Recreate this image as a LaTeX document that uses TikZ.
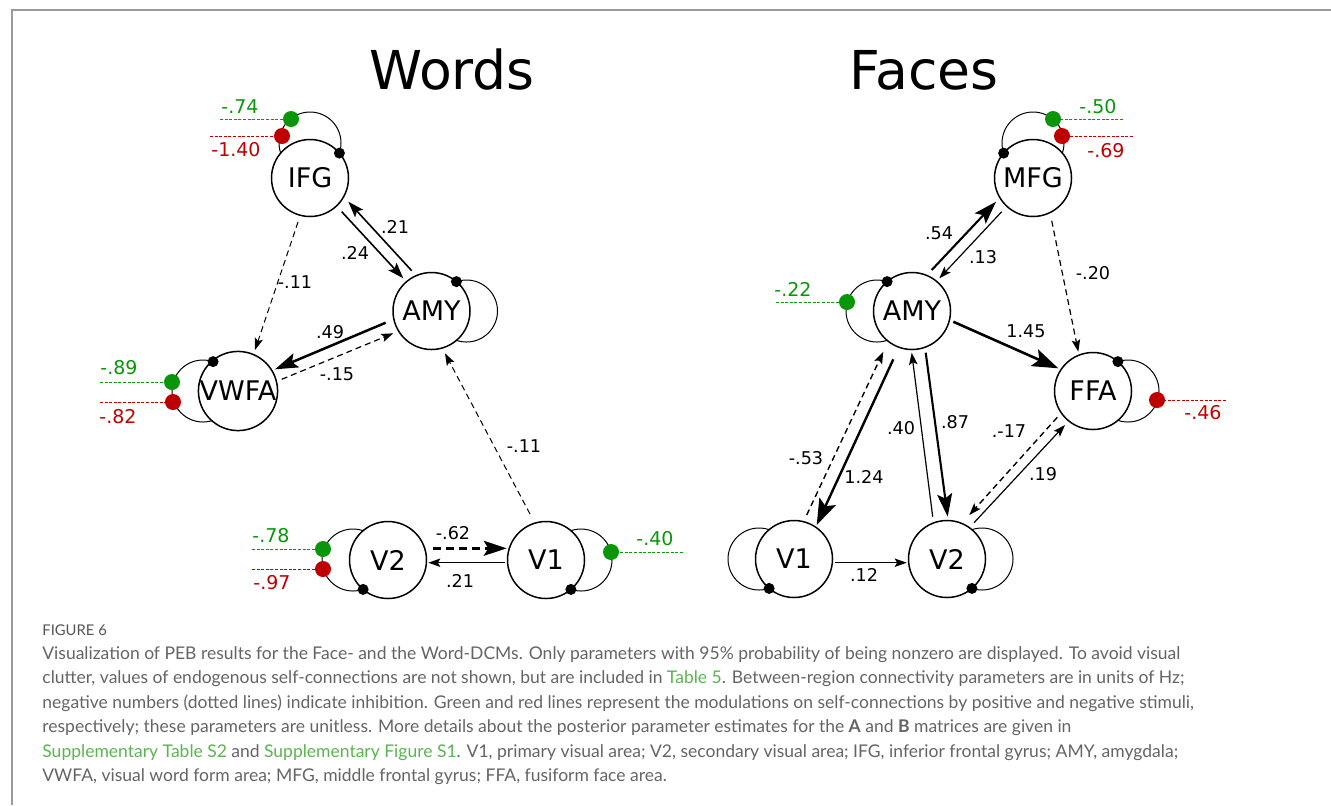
\documentclass[tikz,border=0pt]{standalone}
\usepackage{fontspec}
\setmainfont{DejaVu Sans}
\newfontfamily\capfont{Lato}
\usetikzlibrary{arrows.meta,calc}
\definecolor{pgreen}{RGB}{10,150,10}
\definecolor{pred}{RGB}{190,0,0}
\definecolor{capgray}{RGB}{100,100,100}
\definecolor{linkgreen}{RGB}{90,180,80}
\definecolor{framegray}{RGB}{155,155,155}
\pgfdeclarelayer{bg}
\pgfsetlayers{bg,main}
\begin{document}
\begin{tikzpicture}[x=0.5pt,y=-0.5pt,
 region/.style={circle,draw,line width=0.75pt,fill=white,minimum size=38.5pt,inner sep=0pt,font=\fontsize{13.5}{15}\selectfont},
 selfloop/.style={line width=0.5pt},
 bdot/.style={circle,fill=black,inner sep=0pt,minimum size=5.5pt},
 gdot/.style={circle,fill=pgreen,inner sep=0pt,minimum size=8pt},
 rdot/.style={circle,fill=pred,inner sep=0pt,minimum size=8pt},
 gline/.style={pgreen,line width=0.5pt,dash pattern=on 1.5pt off 0.8pt},
 rline/.style={pred,line width=0.5pt,dash pattern=on 1.5pt off 0.8pt},
 glab/.style={text=pgreen,font=\fontsize{9.5}{11}\selectfont,inner sep=0pt},
 rlab/.style={text=pred,font=\fontsize{9.5}{11}\selectfont,inner sep=0pt},
 elab/.style={font=\fontsize{8.8}{10}\selectfont,inner sep=0pt},
 title/.style={font=\fontsize{26.8}{30}\selectfont,inner sep=0pt},
 athin/.style={line width=0.6pt,-{Stealth[length=6pt,width=4.2pt,inset=1.2pt]}},
 amid/.style={line width=0.8pt,-{Stealth[length=8pt,width=5.5pt,inset=1.6pt]}},
 abig/.style={line width=1.05pt,-{Stealth[length=11.5pt,width=7.5pt,inset=2.3pt]}},
 aheavy/.style={line width=1.3pt,-{Stealth[length=13pt,width=9pt,inset=2.6pt]}},
 inhib/.style={dash pattern=on 3pt off 2pt},
 capline/.style={anchor=base west,inner sep=0pt,text=capgray,font=\capfont\fontsize{8.75}{10}\selectfont},
]
\useasboundingbox (0,0) rectangle (1331,805);
% frame
\draw[framegray,line width=0.9pt] (12,805) -- (12,10) -- (1331,10);

% titles
\node[title] (tW) at (452,70) {Words};
\node[title] (tF) at (924,70) {Faces};

% ---------------- Words ----------------
\node[region] (IFG) at (310,178) {IFG};
\node[region] (AMYw) at (431.5,311) {AMY};
\node[region] (VWFA) at (238,391) {VWFA};
\node[region] (V2w) at (388,560) {V2};
\node[region] (V1w) at (546,560) {V1};

% ---------------- Faces ----------------
\node[region] (MFG) at (1033,178) {MFG};
\node[region] (AMYf) at (912,311) {AMY};
\node[region] (FFA) at (1093,391) {FFA};
\node[region] (V1f) at (794,559) {V1};
\node[region] (V2f) at (947,559) {V2};

% self loops (behind nodes)
\begin{pgfonlayer}{bg}
\draw[selfloop] ($(IFG)+(0,-35)$) circle[radius=15.5pt];
\draw[selfloop] ($(AMYw)+(35,0)$) circle[radius=15.5pt];
\draw[selfloop] ($(VWFA)+(-35,0)$) circle[radius=15.5pt];
\draw[selfloop] ($(V2w)+(-35,0)$) circle[radius=15.5pt];
\draw[selfloop] ($(V1w)+(35,0)$) circle[radius=15.5pt];
\draw[selfloop] ($(MFG)+(0,-35)$) circle[radius=15.5pt];
\draw[selfloop] ($(AMYf)+(-35,0)$) circle[radius=15.5pt];
\draw[selfloop] ($(FFA)+(35,0)$) circle[radius=15.5pt];
\draw[selfloop] ($(V1f)+(-35,0)$) circle[radius=15.5pt];
\draw[selfloop] ($(V2f)+(35,0)$) circle[radius=15.5pt];
\end{pgfonlayer}

% black dots
\node[bdot] (bIFG) at ($(IFG)+(29.4,-24.9)$) {};
\node[bdot] (bAMYw) at ($(AMYw)+(24.9,-29.4)$) {};
\node[bdot] (bVWFA) at ($(VWFA)+(-24.9,-29.4)$) {};
\node[bdot] (bV2w) at ($(V2w)+(-24.9,29.4)$) {};
\node[bdot] (bV1w) at ($(V1w)+(24.9,29.4)$) {};
\node[bdot] (bMFG) at ($(MFG)+(-29.4,-24.9)$) {};
\node[bdot] (bAMYf) at ($(AMYf)+(-24.9,-29.4)$) {};
\node[bdot] (bFFA) at ($(FFA)+(24.9,-29.4)$) {};
\node[bdot] (bV1f) at ($(V1f)+(-24.9,29.4)$) {};
\node[bdot] (bV2f) at ($(V2f)+(24.9,29.4)$) {};

% modulation lines and dots
\coordinate (eIFGg) at (220,119);
\coordinate (eIFGr) at (210,136);
\draw[gline] (eIFGg) -- ($(IFG)+(-19,-59)$);
\draw[rline] (eIFGr) -- ($(IFG)+(-28,-42)$);
\node[gdot] (gIFG) at ($(IFG)+(-19,-59)$) {};
\node[rdot] (rIFG) at ($(IFG)+(-28,-42)$) {};
\node[glab] (lgIFG) at (240,107) {-.74};
\node[rlab] (lrIFG) at (236,150) {-1.40};

\coordinate (eVWFAg) at (100,382);
\coordinate (eVWFAr) at (100,402);
\draw[gline] (eVWFAg) -- ($(VWFA)+(-66,-9)$);
\draw[rline] (eVWFAr) -- ($(VWFA)+(-65,11)$);
\node[gdot] (gVWFA) at ($(VWFA)+(-66,-9)$) {};
\node[rdot] (rVWFA) at ($(VWFA)+(-65,11)$) {};
\node[glab] (lgVWFA) at (119,368) {-.89};
\node[rlab] (lrVWFA) at (118,417) {-.82};

\coordinate (eV2wg) at (252,549);
\coordinate (eV2wr) at (252,569);
\draw[gline] (eV2wg) -- ($(V2w)+(-65,-11)$);
\draw[rline] (eV2wr) -- ($(V2w)+(-65,9)$);
\node[gdot] (gV2w) at ($(V2w)+(-65,-11)$) {};
\node[rdot] (rV2w) at ($(V2w)+(-65,9)$) {};
\node[glab] (lgV2w) at (271,536) {-.78};
\node[rlab] (lrV2w) at (272,583) {-.97};

\coordinate (eV1wg) at (683,552);
\draw[gline] (eV1wg) -- ($(V1w)+(65,-8)$);
\node[gdot] (gV1w) at ($(V1w)+(65,-8)$) {};
\node[glab] (lgV1w) at (655,539) {-.40};

\coordinate (eMFGg) at (1123,119);
\coordinate (eMFGr) at (1133,136);
\draw[gline] (eMFGg) -- ($(MFG)+(20,-59)$);
\draw[rline] (eMFGr) -- ($(MFG)+(29,-42)$);
\node[gdot] (gMFG) at ($(MFG)+(20,-59)$) {};
\node[rdot] (rMFG) at ($(MFG)+(29,-42)$) {};
\node[glab] (lgMFG) at (1098,107) {-.50};
\node[rlab] (lrMFG) at (1106,151) {-.69};

\coordinate (eAMYfg) at (776,302);
\draw[gline] (eAMYfg) -- ($(AMYf)+(-65,-9)$);
\node[gdot] (gAMYf) at ($(AMYf)+(-65,-9)$) {};
\node[glab] (lgAMYf) at (793,289) {-.22};

\coordinate (eFFAr) at (1226,400);
\draw[rline] (eFFAr) -- ($(FFA)+(64,9)$);
\node[rdot] (rFFA) at ($(FFA)+(64,9)$) {};
\node[rlab] (lrFFA) at (1203,413) {-.46};

% ---------------- Words connections ----------------
\draw[amid] ($(IFG)+(31.7,33.7)$) -- ($(AMYw)+(-28.2,-32.7)$);
\draw[amid] ($(AMYw)+(-19.8,-40.3)$) -- ($(IFG)+(38.3,23.7)$);
\draw[athin,inhib,line width=0.5pt] ($(IFG)+(-12,44)$) -- ($(VWFA)+(17,-41)$);
\draw[abig,line width=1.25pt] ($(AMYw)+(-45.8,11.7)$) -- ($(VWFA)+(37,-21.7)$);
\draw[athin,inhib] ($(VWFA)+(43.7,-11.7)$) -- ($(AMYw)+(-38.2,22.3)$);
\draw[athin,inhib,line width=0.5pt] ($(V1w)+(-16,-46)$) -- ($(AMYw)+(13.5,42.3)$);
\draw[abig,line width=1.25pt,dash pattern=on 4pt off 2.5pt] ($(V2w)+(45,-11.7)$) -- ($(V1w)+(-39.3,-11.7)$);
\draw[athin,line width=0.7pt] ($(V1w)+(-41,2.7)$) -- ($(V2w)+(40.3,2.7)$);

\node[elab] (l1) at (355,253) {.24};
\node[elab] (l2) at (395,227) {.21};
\node[elab] (l3) at (295,282) {-.11};
\node[elab] (l4) at (330,332) {.49};
\node[elab] (l5) at (337,374) {-.15};
\node[elab] (l6) at (524,446) {-.11};
\node[elab] (l7) at (453,533) {-.62};
\node[elab] (l8) at (460,581) {.21};

% ---------------- Faces connections ----------------
\draw[abig] ($(AMYf)+(19.7,-41)$) -- ($(MFG)+(-37,23.7)$);
\draw[athin] ($(MFG)+(-31.3,33.7)$) -- ($(AMYf)+(27.3,-32.7)$);
\draw[athin,inhib] ($(MFG)+(18.7,42.7)$) -- ($(FFA)+(-14.7,-39.3)$);
\draw[aheavy] ($(AMYf)+(41.3,10.7)$) -- ($(FFA)+(-34.7,-22.7)$);
\draw[athin,inhib,line width=0.7pt] ($(V1f)+(12.7,-44)$) -- ($(AMYf)+(-28.7,40.7)$);
\draw[aheavy,line width=1.2pt] ($(AMYf)+(-18.7,48.3)$) -- ($(V1f)+(22.7,-34)$);
\draw[athin] ($(V2f)+(-14.3,-42.3)$) -- ($(AMYf)+(-0.3,41.7)$);
\draw[abig] ($(AMYf)+(13.7,41.7)$) -- ($(V2f)+(0.7,-42.3)$);
\draw[athin,inhib,line width=0.7pt] ($(FFA)+(-35.7,26.3)$) -- ($(V2f)+(22.3,-44)$);
\draw[athin] ($(V2f)+(27,-36.3)$) -- ($(FFA)+(-28,34)$);
\draw[athin] ($(V1f)+(41,3.7)$) -- ($(V2f)+(-40.3,3.7)$);

\node[elab] (f1) at (939,233) {.54};
\node[elab] (f2) at (983,257) {.13};
\node[elab] (f3) at (1093,273) {-.20};
\node[elab] (f4) at (1026,331) {1.45};
\node[elab] (f5) at (806,458) {-.53};
\node[elab] (f6) at (864,477) {1.24};
\node[elab] (f7) at (901,428) {.40};
\node[elab] (f8) at (955,422) {.87};
\node[elab] (f9) at (1009,431) {.-17};
\node[elab] (f10) at (1043,474) {.19};
\node[elab] (f11) at (864,575) {.12};

% ---------------- Caption ----------------
\node[capline,font=\capfont\fontsize{7.4}{9}\selectfont,text=capgray!85!black] (cap0) at (42,635) {FIGURE 6};
\node[capline] (cap1) at (42,659) {Visualization of PEB results for the Face- and the Word-DCMs. Only parameters with 95\% probability of being nonzero are displayed. To avoid visual};
\node[capline] (cap2) at (42,683) {clutter, values of endogenous self-connections are not shown, but are included in {\color{linkgreen}Table 5}. Between-region connectivity parameters are in units of Hz;};
\node[capline] (cap3) at (42,708) {negative numbers (dotted lines) indicate inhibition. Green and red lines represent the modulations on self-connections by positive and negative stimuli,};
\node[capline] (cap4) at (42,732) {respectively; these parameters are unitless. More details about the posterior parameter estimates for the \textbf{A} and \textbf{B} matrices are given in};
\node[capline] (cap5) at (42,757) {{\color{linkgreen}Supplementary Table S2} and {\color{linkgreen}Supplementary Figure S1}. V1, primary visual area; V2, secondary visual area; IFG, inferior frontal gyrus; AMY, amygdala;};
\node[capline] (cap6) at (42,781) {VWFA, visual word form area; MFG, middle frontal gyrus; FFA, fusiform face area.};
\end{tikzpicture}
\end{document}
